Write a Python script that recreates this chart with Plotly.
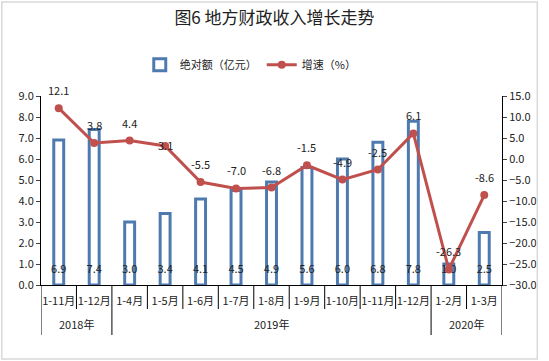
import plotly.graph_objects as go

years = ["2018年", "2018年", "2019年", "2019年", "2019年", "2019年", "2019年", "2019年",
         "2019年", "2019年", "2019年", "2020年", "2020年"]
months = ["1-11月", "1-12月", "1-4月", "1-5月", "1-6月", "1-7月", "1-8月", "1-9月",
          "1-10月", "1-11月", "1-12月", "1-2月", "1-3月"]
amount = [6.9, 7.4, 3.0, 3.4, 4.1, 4.5, 4.9, 5.6, 6.0, 6.8, 7.8, 1.0, 2.5]
growth = [12.1, 3.8, 4.4, 3.1, -5.5, -7.0, -6.8, -1.5, -4.9, -2.5, 6.1, -26.3, -8.6]

FONT = "Noto Sans CJK SC, Microsoft YaHei, sans-serif"
BLUE = "#4F7AB0"
RED = "#C0504D"
TXT = "#222222"

idx = list(range(len(months)))
PLOT_H = 189.0

fig = go.Figure()
fig.add_trace(go.Bar(
    x=idx, y=amount, name="绝对额（亿元）", width=0.28,
    marker=dict(color="white", line=dict(color=BLUE, width=3)),
    yaxis="y",
))
fig.add_trace(go.Scatter(
    x=idx, y=growth, name="增速（%）", mode="lines+markers",
    line=dict(color=RED, width=3), marker=dict(color=RED, size=8),
    yaxis="y2",
))
# bar value labels near the base
fig.add_trace(go.Scatter(
    x=idx, y=[0.7] * len(amount), mode="text",
    text=[f"{v:.1f}" for v in amount], textfont=dict(size=11, color=TXT),
    showlegend=False, hoverinfo="skip", yaxis="y",
))

# growth value labels above points
for i, v in enumerate(growth):
    fig.add_annotation(
        x=i, y=v, xref="x", yref="y2", text=f"{v:.1f}", showarrow=False,
        yshift=1 if v == 3.1 else 18, font=dict(size=11, color=TXT),
    )

# month dividers and year-group dividers
n = len(months)
for k in range(n + 1):
    is_group = k == 0 or k == n or years[k] != years[k - 1]
    depth = 50 if is_group else 24
    fig.add_shape(type="line", xref="x", yref="paper", x0=k - 0.5, x1=k - 0.5,
                  y0=0, y1=-depth / PLOT_H, line=dict(color="black", width=1))

# year labels
groups = []
for i, yv in enumerate(years):
    if groups and groups[-1][0] == yv:
        groups[-1][1].append(i)
    else:
        groups.append((yv, [i]))
for yv, members in groups:
    fig.add_annotation(x=sum(members) / len(members), y=-39 / PLOT_H, xref="x", yref="paper",
                       text=yv, showarrow=False, yanchor="middle",
                       font=dict(size=11, color=TXT))

fig.update_layout(
    width=549, height=361,
    margin=dict(l=41, r=38, t=96, b=76),
    paper_bgcolor="white", plot_bgcolor="white",
    font=dict(family=FONT, size=11, color=TXT),
    title=dict(text="图6 地方财政收入增长走势", x=0.5, xanchor="center",
               y=0.95, yanchor="middle", font=dict(size=17, color=TXT)),
    legend=dict(orientation="h", x=0.455, xanchor="center", y=1.165, yanchor="middle",
                font=dict(size=11), itemwidth=30),
    showlegend=True,
    xaxis=dict(range=[-0.5, n - 0.5], tickmode="array", tickvals=idx, ticktext=months,
               showline=True, linecolor="black", linewidth=1, ticks="", showgrid=False,
               zeroline=False, ticklabelstandoff=6, tickangle=0,
               tickfont=dict(size=11, color=TXT)),
    yaxis=dict(range=[0, 9], dtick=1, tickformat=".1f", showline=True, linecolor="black",
               ticks="outside", ticklen=4, showgrid=False, zeroline=False,
               tickfont=dict(size=11, color=TXT)),
    yaxis2=dict(range=[-30, 15], dtick=5, tickformat=".1f", overlaying="y", side="right",
                showline=True, linecolor="black", ticks="outside", ticklen=4,
                showgrid=False, zeroline=False, tickfont=dict(size=11, color=TXT)),
)

# outer border of the chart
fig.add_shape(type="rect", xref="paper", yref="paper",
              x0=-40 / 470, x1=1 + 36 / 470, y0=-74 / PLOT_H, y1=1 + 94 / PLOT_H,
              line=dict(color="#D9D9D9", width=1.5))

fig.write_html("out.html", config={"displayModeBar": False},
               post_script="document.body.style.margin='0';")
